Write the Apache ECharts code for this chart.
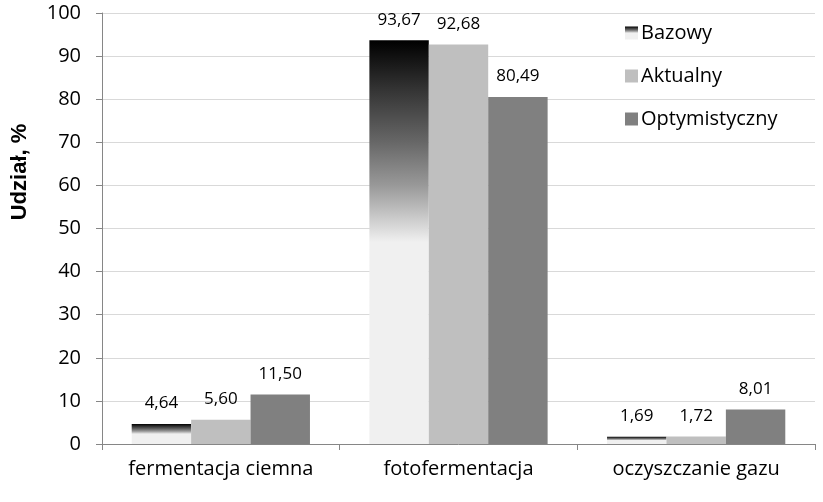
<!DOCTYPE html>
<html><head><meta charset="utf-8">
<script src="https://cdn.jsdelivr.net/npm/echarts@6/dist/echarts.min.js"></script>
<style>html,body{margin:0;padding:0;background:#fff}#c{width:823px;height:502px}</style>
</head><body><div id="c"></div>
<script>
const categories = ['fermentacja ciemna', 'fotofermentacja', 'oczyszczanie gazu'];
const bazowy = [4.64, 93.67, 1.69];
const aktualny = [5.60, 92.68, 1.72];
const optymistyczny = [11.50, 80.49, 8.01];
const seriesNames = ['Bazowy', 'Aktualny', 'Optymistyczny'];
const yTicks = [0, 10, 20, 30, 40, 50, 60, 70, 80, 90, 100];
const yTitle = 'Udział, %';

const FONT = 'Open Sans';
const grad = new echarts.graphic.LinearGradient(0, 0, 0, 1, [
  {offset: 0, color: '#000000'},
  {offset: 0.12, color: '#333333'},
  {offset: 0.25, color: '#666666'},
  {offset: 0.36, color: '#999999'},
  {offset: 0.43, color: '#c4c4c4'},
  {offset: 0.5, color: '#f0f0f0'},
  {offset: 1, color: '#f0f0f0'}
]);
const fmt = p => p.value.toFixed(2).replace('.', ',');
const lbl = {show: true, position: 'top', distance: 12, formatter: fmt, fontFamily: FONT, fontSize: 17, color: '#000'};

const chart = echarts.init(document.getElementById('c'), null, {renderer: 'canvas'});
chart.setOption({
  animation: false,
  textStyle: {fontFamily: FONT},
  grid: {left: 102, right: 8, top: 13, bottom: 58, containLabel: false},
  legend: {
    orient: 'vertical', left: 620, top: 18, itemGap: 23,
    icon: 'rect', itemWidth: 13, itemHeight: 13,
    textStyle: {fontFamily: FONT, fontSize: 20, color: '#000', padding: [0, 0, 0, -2]},
    data: seriesNames
  },
  graphic: [{
    type: 'text', x: 9, y: 172, rotation: Math.PI / 2,
    style: {text: yTitle, fontFamily: 'Liberation Sans', fontSize: 22, fontWeight: 'bold', fill: '#000',
            align: 'center', verticalAlign: 'top'}
  }],
  xAxis: {
    type: 'category', data: categories,
    axisLine: {lineStyle: {color: '#868686', width: 1}},
    axisTick: {show: true, length: 6, lineStyle: {color: '#868686'}},
    axisLabel: {fontFamily: FONT, fontSize: 20, color: '#000', margin: 15, interval: 0, hideOverlap: false}
  },
  yAxis: {
    type: 'value', min: yTicks[0], max: yTicks[yTicks.length - 1], interval: 10,
    axisLine: {show: true, lineStyle: {color: '#868686'}},
    axisTick: {show: true, length: 6, lineStyle: {color: '#868686'}},
    axisLabel: {fontFamily: FONT, fontSize: 20, color: '#000', margin: 21},
    splitLine: {lineStyle: {color: '#d9d9d9'}}
  },
  series: [
    {name: seriesNames[0], type: 'bar', data: bazowy, barGap: '0%', barCategoryGap: '25%',
     itemStyle: {color: grad}, label: lbl},
    {name: seriesNames[1], type: 'bar', data: aktualny, barGap: '0%', barCategoryGap: '25%',
     itemStyle: {color: '#bfbfbf'}, label: lbl},
    {name: seriesNames[2], type: 'bar', data: optymistyczny, barGap: '0%', barCategoryGap: '25%',
     itemStyle: {color: '#808080'}, label: lbl}
  ]
});
</script></body></html>
